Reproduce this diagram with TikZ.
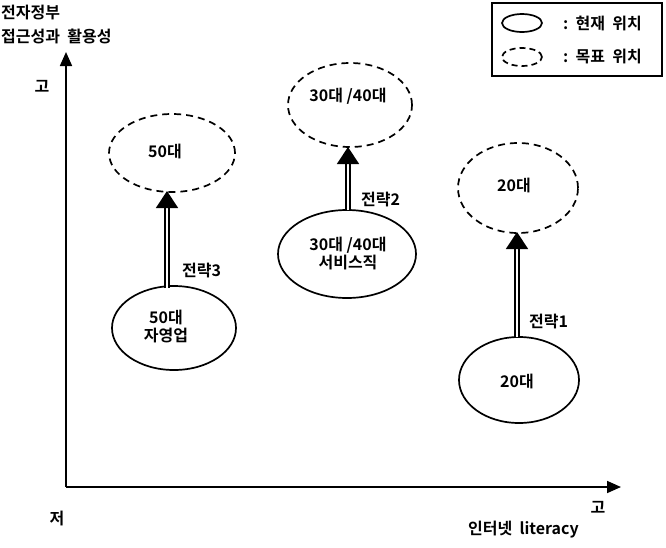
\documentclass[tikz,border=0pt]{standalone}
\usepackage{fontspec}
\setmainfont{Liberation Sans}
\newfontfamily\kr{Noto Sans CJK KR Bold}
\usetikzlibrary{arrows.meta,shapes.geometric}
\tikzset{
  lbl/.style={font=\kr\fontsize{16}{18}\selectfont, inner sep=0pt, align=center},
  cur/.style={draw, ellipse, line width=1.7pt, inner sep=0pt},
  goal/.style={draw, ellipse, line width=1.7pt, dash pattern=on 7pt off 5pt, inner sep=0pt},
  axis/.style={line width=1.7pt, -{Triangle[width=12pt,length=14pt]}},
  strat/.style={double, double distance=2.2pt, line width=1.5pt, -{Triangle[width=22pt,length=17pt]}, shorten >=-1pt},
}
\begin{document}
\begin{tikzpicture}[x=1pt,y=-1pt]
\useasboundingbox (0,0) rectangle (666,547);
% axes
\coordinate (o) at (66,487);
\coordinate (ytop) at (66,52);
\coordinate (xend) at (621,487);
\draw[axis] (o) -- (ytop);
\draw[axis] (o) -- (xend);
\node[lbl, anchor=west] (ylab1) at (1,13) {전자정부};
\node[lbl, anchor=west] (ylab2) at (1,36) {접근성과\ \ 활용성};
\node[lbl] (yhigh) at (42,86) {고};
\node[lbl] (low) at (57,518) {저};
\node[lbl] (xhigh) at (598,507) {고};
\node[lbl, anchor=east] (xlab) at (579,530) {인터넷\ \ literacy};
% legend
\node[draw, line width=1.5pt, minimum width=170pt, minimum height=73pt, anchor=north west, inner sep=0pt] (legend) at (491,2) {};
\node[cur, minimum width=40pt, minimum height=18pt] (lcur) at (522,23) {};
\node[goal, minimum width=40pt, minimum height=18pt, dash pattern=on 6pt off 4pt] (lgoal) at (522,57) {};
\node[lbl, anchor=west] (lcurt) at (563,23) {:\ \ 현재\ \ 위치};
\node[lbl, anchor=west] (lgoalt) at (563,57) {:\ \ 목표\ \ 위치};
% ellipses
\node[goal, minimum width=126pt, minimum height=78pt] (g50) at (172,153) {};
\node[lbl] (g50t) at (165,151) {50대};
\node[cur, minimum width=124pt, minimum height=84pt] (c50) at (174,328) {};
\node[lbl] (c50t) at (166,326) {50대\\자영업};
\node[goal, minimum width=124pt, minimum height=84pt] (g3040) at (350,105) {};
\node[lbl] (g3040t) at (348,96) {30대\ /40대};
\node[cur, minimum width=138pt, minimum height=88pt] (c3040) at (347,254) {};
\node[lbl] (c3040t) at (348,254) {30대\ /40대\\서비스직};
\node[goal, minimum width=120pt, minimum height=90pt] (g20) at (518,188) {};
\node[lbl] (g20t) at (514,185) {20대};
\node[cur, minimum width=120pt, minimum height=86pt] (c20) at (519,380) {};
\node[lbl] (c20t) at (517,381) {20대};
% strategy arrows
\coordinate (s3) at (167,288);
\coordinate (t3) at (167,192);
\coordinate (s2) at (348,210);
\coordinate (t2) at (348,148);
\coordinate (s1) at (517,337);
\coordinate (t1) at (517,233);
\draw[strat] (s3) -- (t3);
\draw[strat] (s2) -- (t2);
\draw[strat] (s1) -- (t1);
\node[lbl, anchor=west] (st3) at (182,271) {전략3};
\node[lbl, anchor=west] (st2) at (361,200) {전략2};
\node[lbl, anchor=west] (st1) at (529,322) {전략1};
\end{tikzpicture}
\end{document}
